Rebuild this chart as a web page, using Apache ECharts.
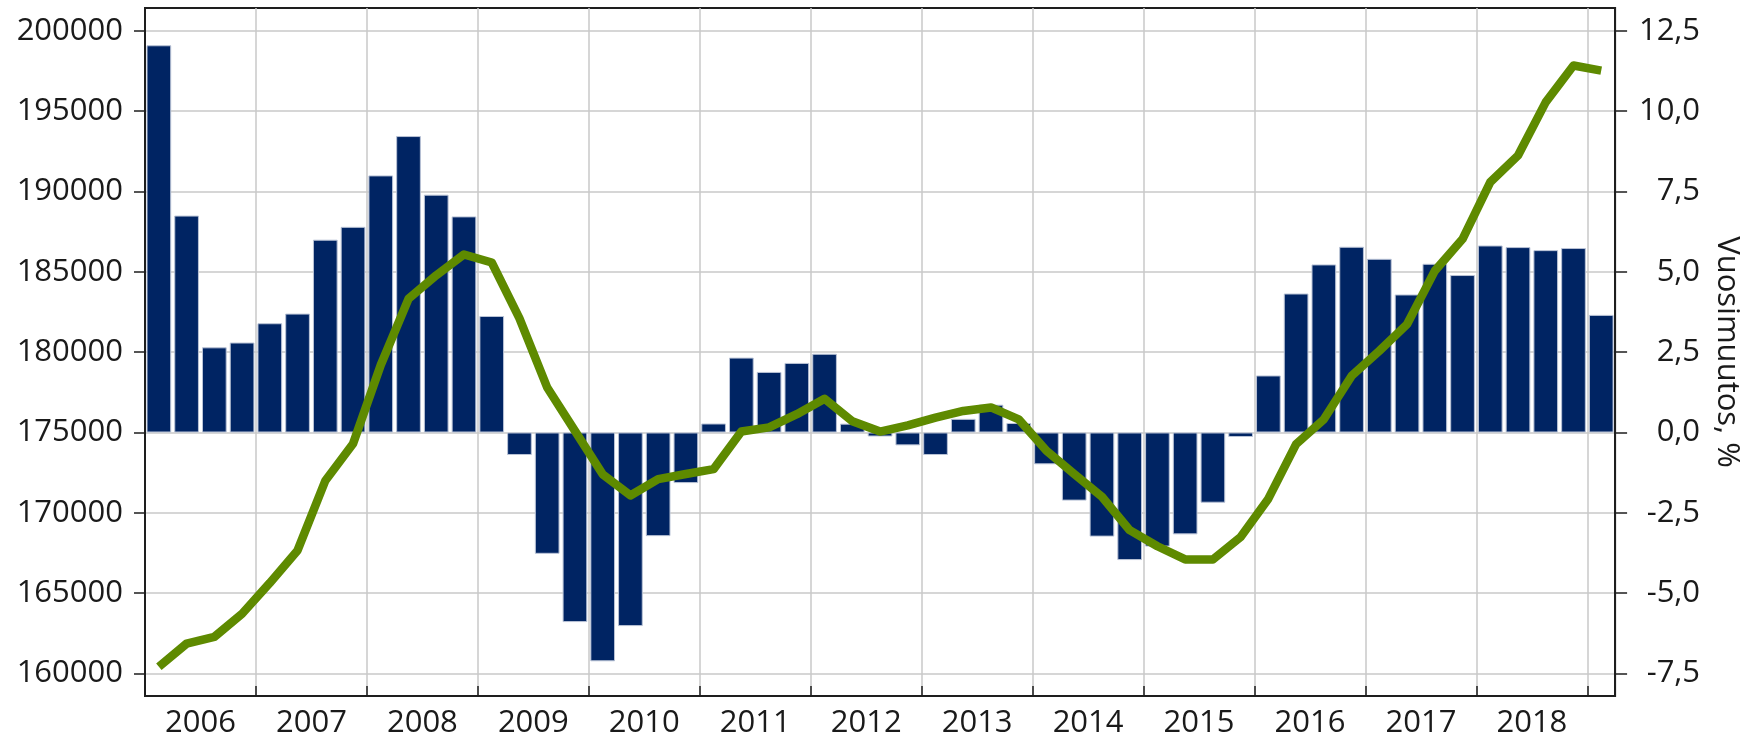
<!DOCTYPE html>
<html>
<head>
<meta charset="utf-8">
<script src="https://cdn.jsdelivr.net/npm/echarts@6/dist/echarts.min.js"></script>
<style>
  html, body { margin: 0; padding: 0; background: #fff; }
  #chart { width: 1750px; height: 741px; }
</style>
</head>
<body>
<div id="chart"></div>
<script>
// vuodet, x-akselin nimiöt
const years = ['2006', '2007', '2008', '2009', '2010', '2011', '2012',
  '2013', '2014', '2015', '2016', '2017', '2018'];

// neljännesvuodet 2006Q1 ... 2019Q1
const quarters = [];
years.concat(['2019']).forEach(function (y) {
  for (let q = 1; q <= 4; q++) quarters.push(y + 'Q' + q);
});
quarters.length = 53;

// pylväät, vasen akseli (taso 175000)
const barValues = [
  199100, 188500, 180300, 180600,
  181800, 182400, 187000, 187800,
  191000, 193450, 189800, 188450,
  182250, 173600, 167450, 163200,
  160760, 162950, 168550, 171850,
  175560, 179660, 178770, 179330,
  179900, 175550, 174750, 174200,
  173600, 175850, 176730, 175590,
  173020, 170760, 168520, 167060,
  167900, 168660, 170630, 174720,
  178550, 183650, 185460, 186560,
  185810, 183590, 185500, 184800,
  186640, 186540, 186350, 186480,
  182320
];

// vuosimuutos, %, oikea akseli
const changeValues = [
  -7.29, -6.57, -6.36, -5.64,
  -4.68, -3.67, -1.50, -0.35,
  2.10, 4.16, 4.89, 5.54,
  5.29, 3.55, 1.40, 0.05,
  -1.30, -1.96, -1.45, -1.29,
  -1.14, 0.03, 0.16, 0.57,
  1.05, 0.35, 0.03, 0.22,
  0.46, 0.67, 0.78, 0.41,
  -0.57, -1.29, -2.00, -3.04,
  -3.54, -3.95, -3.95, -3.25,
  -2.06, -0.36, 0.41, 1.76,
  2.54, 3.37, 5.03, 6.02,
  7.79, 8.62, 10.28, 11.42,
  11.26
];

const leftTicks = [160000, 165000, 170000, 175000, 180000, 185000, 190000, 195000, 200000];
const rightTicks = [-7.5, -5, -2.5, 0, 2.5, 5, 7.5, 10, 12.5];
const yearLabelPos = years.map(function (y, i) { return i * 4 + 2; });

const baseLevel = 175000;
const leftMin = 158600;
const leftMax = 201420;

const font = 'Open Sans';
const textColor = '#1a1a1a';
const gridColor = '#c8c8c8';

const chart = echarts.init(document.getElementById('chart'));

const yearTick = function (index) { return index % 4 === 0; };

const option = {
  animation: false,
  grid: {
    left: 145, right: 129, top: 8, bottom: 45,
    show: true, borderColor: '#1e1e1e', borderWidth: 2, backgroundColor: 'transparent'
  },
  xAxis: [
    {
      type: 'category',
      data: quarters,
      boundaryGap: true,
      axisLine: { show: true, onZero: false, lineStyle: { color: '#1e1e1e', width: 2 } },
      axisTick: { show: true, inside: true, length: 10, interval: yearTick,
        lineStyle: { color: '#1e1e1e', width: 1.5 } },
      axisLabel: { show: false },
      splitLine: { show: true, interval: yearTick, lineStyle: { color: gridColor, width: 1.5 } }
    },
    {
      type: 'value',
      position: 'bottom',
      min: 0,
      max: quarters.length,
      axisLine: { show: false, onZero: false },
      axisTick: { show: false },
      splitLine: { show: false },
      axisLabel: {
        customValues: yearLabelPos,
        margin: 12,
        fontFamily: font, fontSize: 31, color: textColor,
        formatter: function (v) { return years[(v - 2) / 4]; }
      }
    }
  ],
  yAxis: [
    {
      type: 'value',
      position: 'left',
      min: leftMin,
      max: leftMax,
      axisLine: { show: true, lineStyle: { color: '#1e1e1e', width: 2 } },
      axisTick: { show: true, length: 11, customValues: leftTicks,
        lineStyle: { color: '#1e1e1e', width: 1.5 } },
      axisLabel: { customValues: leftTicks, margin: 22,
        fontFamily: font, fontSize: 31, color: textColor,
        formatter: function (v) { return String(v); } },
      splitLine: { show: true, lineStyle: { color: gridColor, width: 1.5 } }
    },
    {
      type: 'value',
      position: 'right',
      min: (leftMin - baseLevel) / 2000,
      max: (leftMax - baseLevel) / 2000,
      axisLine: { show: true, lineStyle: { color: '#1e1e1e', width: 2 } },
      axisTick: { show: true, length: 12, customValues: rightTicks,
        lineStyle: { color: '#1e1e1e', width: 1.5 } },
      axisLabel: { customValues: rightTicks, margin: 85, align: 'right',
        fontFamily: font, fontSize: 31, color: textColor,
        formatter: function (v) { return v.toFixed(1).replace('.', ','); } },
      splitLine: { show: false },
      name: 'Vuosimuutos, %',
      nameLocation: 'middle',
      nameRotate: -90,
      nameGap: 94,
      nameTextStyle: { fontFamily: font, fontSize: 31, color: textColor }
    },
    {
      // piilotettu akseli, jotta pylväät alkavat tasosta 175000
      type: 'value',
      position: 'left',
      show: false,
      min: leftMin - baseLevel,
      max: leftMax - baseLevel
    }
  ],
  series: [
    {
      name: 'Taso',
      type: 'bar',
      xAxisIndex: 0,
      yAxisIndex: 2,
      data: barValues.map(function (v) { return v - baseLevel; }),
      barCategoryGap: '11%',
      itemStyle: { color: '#002463', borderColor: '#b9c3d6', borderWidth: 1 },
      z: 2
    },
    {
      name: 'Vuosimuutos, %',
      type: 'line',
      xAxisIndex: 0,
      yAxisIndex: 1,
      data: changeValues,
      symbol: 'none',
      lineStyle: { color: '#5e8a00', width: 8.5, join: 'round' },
      z: 3
    }
  ]
};

chart.setOption(option);
</script>
</body>
</html>
